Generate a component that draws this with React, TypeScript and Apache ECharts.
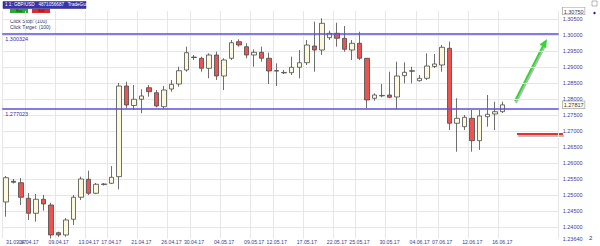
import React, { useEffect, useRef } from "react";
import * as echarts from "echarts";

const dates = [
  "31.03.17","02.04.17","03.04.17","04.04.17","05.04.17","06.04.17","07.04.17",
  "09.04.17","10.04.17","11.04.17","12.04.17","13.04.17","14.04.17",
  "16.04.17","17.04.17","18.04.17","19.04.17","20.04.17","21.04.17",
  "23.04.17","24.04.17","25.04.17","26.04.17","27.04.17","28.04.17",
  "30.04.17","01.05.17","02.05.17","03.05.17","04.05.17","05.05.17",
  "07.05.17","08.05.17","09.05.17","10.05.17","11.05.17","12.05.17",
  "14.05.17","15.05.17","16.05.17","17.05.17","18.05.17","19.05.17",
  "21.05.17","22.05.17","23.05.17","24.05.17","25.05.17","26.05.17",
  "28.05.17","29.05.17","30.05.17","31.05.17","01.06.17","02.06.17",
  "04.06.17","05.06.17","06.06.17","07.06.17","08.06.17","09.06.17",
  "11.06.17","12.06.17","13.06.17","14.06.17","15.06.17","16.06.17"
];
const futureDates = ["18.06.17","19.06.17","20.06.17","21.06.17","22.06.17","23.06.17","25.06.17"];
const firstLabel = "31.03.17";
const labeledDates = [
  "04.04.17","09.04.17","13.04.17","17.04.17","21.04.17","26.04.17",
  "30.04.17","04.05.17","09.05.17","12.05.17","17.05.17","22.05.17","25.05.17",
  "30.05.17","04.06.17","07.06.17","12.06.17","16.06.17"
];

const open = [
  1.24781,1.25428,1.25384,1.24897,1.24428,1.24866,1.24687,1.23822,1.23750,1.24241,
  1.24928,1.25491,1.25053,1.25325,1.25366,1.25572,1.28406,1.27797,1.27991,1.28353,
  1.28197,1.27759,1.28312,1.28469,1.28906,1.29309,1.29272,1.28959,1.29375,1.28719,
  1.29272,1.29791,1.29634,1.29375,1.29459,1.29272,1.28870,1.28815,1.28822,1.28991,
  1.29134,1.29656,1.29531,1.29916,1.30053,1.29897,1.29531,1.29741,1.29272,1.28022,
  1.28097,1.28125,1.28062,1.28728,1.28880,1.28572,1.28647,1.29016,1.29062,1.29584,
  1.27241,1.27134,1.27397,1.26697,1.27447,1.27531,1.27603
];
const close = [
  1.25541,1.25397,1.24928,1.24428,1.24866,1.24719,1.23750,1.23750,1.24219,1.24928,
  1.25500,1.25053,1.25334,1.25345,1.25553,1.28406,1.27812,1.27991,1.28094,1.28228,
  1.27781,1.28281,1.28459,1.28884,1.29447,1.29297,1.28959,1.29375,1.28719,1.29219,
  1.29759,1.29687,1.29375,1.29459,1.29272,1.28875,1.28890,1.28830,1.28991,1.29134,
  1.29687,1.29531,1.30366,1.30053,1.29897,1.29553,1.29741,1.29272,1.27969,1.28125,
  1.28112,1.28053,1.28719,1.28834,1.28870,1.28647,1.29031,1.29094,1.29616,1.27241,
  1.27397,1.27428,1.26697,1.27469,1.27522,1.27603,1.27817
];
const low = [
  1.24322,1.25359,1.24687,1.24219,1.24166,1.24509,1.23640,1.23690,1.23697,1.24062,
  1.24844,1.25000,1.25031,1.25297,1.25344,1.25178,1.27719,1.27656,1.27553,1.28072,
  1.27741,1.27703,1.28228,1.28384,1.28853,1.29219,1.28853,1.28647,1.28594,1.28281,
  1.29219,1.29634,1.29272,1.29009,1.29166,1.28469,1.28406,1.28781,1.28750,1.28647,
  1.29062,1.28853,1.29375,1.29844,1.29634,1.29478,1.29219,1.29219,1.27709,1.27947,
  1.28053,1.28022,1.27687,1.28491,1.28491,1.28541,1.28594,1.28969,1.28853,1.27031,
  1.26353,1.27031,1.26353,1.26406,1.27134,1.27031,1.27563
];
const high = [
  1.25594,1.25500,1.25531,1.25062,1.25031,1.25000,1.24759,1.23853,1.24281,1.25000,
  1.25572,1.25759,1.25375,1.25375,1.25906,1.28500,1.28541,1.28437,1.28303,1.28437,
  1.28281,1.28406,1.28594,1.29009,1.29634,1.29375,1.29322,1.29428,1.29478,1.29272,
  1.29844,1.29866,1.29741,1.29553,1.29634,1.29447,1.29116,1.28906,1.29322,1.29531,
  1.29844,1.30416,1.30522,1.30134,1.30384,1.30281,1.29844,1.30103,1.29281,1.28178,
  1.28469,1.28853,1.29166,1.29147,1.29009,1.28750,1.29428,1.29406,1.29687,1.29791,
  1.28022,1.27500,1.27656,1.27656,1.28125,1.27916,1.27916
];

const levelLines = [1.300324, 1.277023];
const gridTicks = [1.24,1.245,1.25,1.255,1.26,1.265,1.27,1.275,1.28,1.285,1.29,1.295,1.3,1.305];
const axisMin = 1.2364;
const axisMax = 1.3075;
const currentPrice = 1.27817;

const FONT = "Liberation Sans, Arial, sans-serif";

export default function App() {
  const ref = useRef<HTMLDivElement>(null);
  useEffect(() => {
    if (!ref.current) return;
    const chart = echarts.init(ref.current, null, { renderer: "svg" });
    const cats = [...dates, ...futureDates];
    const data = open.map((o, i) => [o, close[i], low[i], high[i]]);
    const showLabel = (_i: number, v: string) => labeledDates.includes(v);
    const showGrid = (_i: number, v: string) => v === firstLabel || labeledDates.includes(v);
    const labelValues = [axisMin, ...gridTicks, currentPrice, axisMax];
    const xLabelBase = { fontSize: 5.2, fontFamily: FONT, color: "#3c3c8c", margin: 1 };
    chart.setOption({
      animation: false,
      backgroundColor: "#ffffff",
      grid: {
        left: 2.24, right: 41.3, top: 11, bottom: 7.5,
        containLabel: false, outerBoundsMode: "none",
        show: false,
      },
      xAxis: [
        {
          type: "category",
          data: cats,
          boundaryGap: true,
          axisLine: { show: false },
          axisTick: { show: false },
          axisLabel: { ...xLabelBase, interval: showLabel },
          splitLine: { show: true, interval: showGrid, lineStyle: { color: "#e6e6e6", width: 1 } },
        },
        {
          type: "category",
          data: cats,
          boundaryGap: true,
          position: "bottom",
          axisLine: { show: false },
          axisTick: { show: false },
          splitLine: { show: false },
          axisLabel: {
            ...xLabelBase,
            interval: (_i: number, v: string) => v === firstLabel,
            showMinLabel: true,
            alignMinLabel: "left",
          },
        },
      ],
      yAxis: {
        type: "value",
        position: "right",
        min: axisMin,
        max: axisMax,
        axisLine: { show: false },
        axisTick: { show: false, customValues: gridTicks },
        splitLine: { show: true, lineStyle: { color: "#e6e6e6", width: 1 } },
        axisLabel: {
          customValues: labelValues,
          margin: 4,
          fontSize: 5.5,
          fontFamily: FONT,
          color: "#3c3c9c",
          formatter: (v: number) => {
            const s = v.toFixed(5);
            if (Math.abs(v - currentPrice) < 1e-7) return "{cur|" + s + "}";
            if (Math.abs(v - axisMax) < 1e-7) return "{top|" + s + "}";
            return s;
          },
          rich: {
            cur: { fontSize: 5.5, fontFamily: FONT, color: "#333366", backgroundColor: "#ffffe8", borderColor: "#999999", borderWidth: 0.6, padding: [1, 1, 0, 1] },
            top: { fontSize: 5.5, fontFamily: FONT, color: "#333366", backgroundColor: "#ffffff", borderColor: "#999999", borderWidth: 0.6, padding: [1, 1, 0, 1] },
          },
        },
      },
      series: [
        {
          type: "candlestick",
          xAxisIndex: 0,
          data,
          barWidth: 5,
          itemStyle: {
            color: "#fdf9dc",
            color0: "#ef5350",
            borderColor: "#4a4a4a",
            borderColor0: "#4a4a4a",
            borderWidth: 0.8,
          },
          markLine: {
            silent: true,
            precision: 6,
            symbol: ["none", "none"],
            lineStyle: { color: "#5b50d8", width: 1.5, type: "solid" },
            label: {
              position: "insideStartBottom",
              formatter: (p: any) => levelLines[p.dataIndex].toFixed(6),
              fontSize: 5.5,
              fontFamily: FONT,
              color: "#3434b0",
              distance: [3, 2],
            },
            data: levelLines.map((v) => ({ yAxis: v })),
          },
        },
      ],
      graphic: [
        { type: "rect", shape: { x: 3, y: 1.5, width: 83, height: 7 }, style: { fill: "#3a34a8", stroke: "#22207a", lineWidth: 0.5 } },
        { type: "text", x: 5, y: 2.4, style: { text: "1 1: GBP/USD   4871056687   TradeGuard", fill: "#ffffff", fontSize: 4.6, fontFamily: FONT } },
        { type: "rect", shape: { x: 10, y: 9, width: 18, height: 4 }, style: { fill: "#2fa82f" } },
        { type: "text", x: 19, y: 9.2, style: { text: "Buy", fill: "#0c3a0c", fontSize: 3.6, fontFamily: FONT, align: "center" } },
        { type: "rect", shape: { x: 32, y: 9, width: 18, height: 4 }, style: { fill: "#e02a2a" } },
        { type: "text", x: 41, y: 9.2, style: { text: "Sell", fill: "#4a0c0c", fontSize: 3.6, fontFamily: FONT, align: "center" } },
        { type: "text", x: 10, y: 18.5, style: { text: "Click Stop: (100)", fill: "#33335a", fontSize: 5, fontFamily: FONT } },
        { type: "text", x: 10, y: 24.5, style: { text: "Click Target: (100)", fill: "#33335a", fontSize: 5, fontFamily: FONT } },
        // green arrow with shadow
        { type: "line", shape: { x1: 516, y1: 103, x2: 545, y2: 46 }, style: { stroke: "#b8b8b8", lineWidth: 2 } },
        { type: "line", shape: { x1: 515, y1: 101, x2: 544, y2: 44 }, style: { stroke: "#33d633", lineWidth: 2 } },
        { type: "polygon", shape: { points: [[547, 39], [546, 48], [539.5, 44.6]] }, style: { fill: "#33d633" } },
        // red line with shadow
        { type: "line", shape: { x1: 518, y1: 136, x2: 564, y2: 136 }, style: { stroke: "#c0c0c0", lineWidth: 2 } },
        { type: "line", shape: { x1: 517, y1: 134, x2: 563, y2: 134 }, style: { stroke: "#e83030", lineWidth: 2 } },
        // right strip
        { type: "rect", shape: { x: 592, y: 1, width: 5, height: 5 }, style: { fill: "none", stroke: "#888", lineWidth: 0.6 } },
        { type: "circle", shape: { cx: 594.5, cy: 13, r: 1.2 }, style: { fill: "#22227a" } },
        { type: "text", x: 589, y: 235, style: { text: "2", fill: "#333", fontSize: 6, fontFamily: FONT } },
      ],
    });
    return () => chart.dispose();
  }, []);
  return (
    <div
      ref={ref}
      style={{ position: "fixed", left: 0, top: 0, width: 600, height: 246, background: "#fff" }}
    />
  );
}
